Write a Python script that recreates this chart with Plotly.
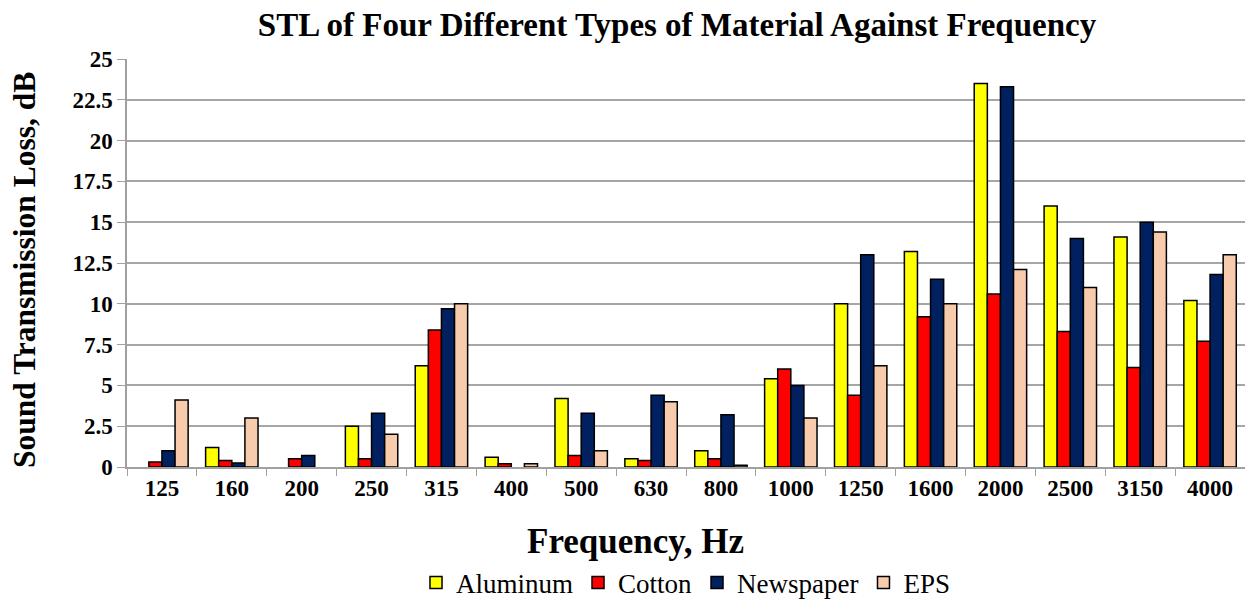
import plotly.graph_objects as go

freqs = ["125", "160", "200", "250", "315", "400", "500", "630", "800", "1000",
         "1250", "1600", "2000", "2500", "3150", "4000"]
aluminum = [0, 1.2, 0, 2.5, 6.2, 0.6, 4.2, 0.5, 1.0, 5.4, 10.0, 13.2, 23.5, 16.0, 14.1, 10.2]
cotton = [0.3, 0.4, 0.5, 0.5, 8.4, 0.2, 0.7, 0.4, 0.5, 6.0, 4.4, 9.2, 10.6, 8.3, 6.1, 7.7]
newspaper = [1.0, 0.25, 0.7, 3.3, 9.7, 0, 3.3, 4.4, 3.2, 5.0, 13.0, 11.5, 23.3, 14.0, 15.0, 11.8]
eps = [4.1, 3.0, 0, 2.0, 10.0, 0.2, 1.0, 4.0, 0.1, 3.0, 6.2, 10.0, 12.1, 11.0, 14.4, 13.0]
yticks = [0, 2.5, 5, 7.5, 10, 12.5, 15, 17.5, 20, 22.5, 25]

series = [("Aluminum", aluminum, "#FFFF00"), ("Cotton", cotton, "#FF0000"),
          ("Newspaper", newspaper, "#002060"), ("EPS", eps, "#F8CBAD")]

fig = go.Figure()
for name, vals, col in series:
    # zero values are drawn as no bar at all (as in the original chart)
    fig.add_trace(go.Bar(x=freqs, y=[v if v != 0 else None for v in vals], name=name,
                         marker=dict(color=col, line=dict(color="black", width=1.5))))

# page body has an 8px margin, so the figure is sized/offset to compensate
W, H = 1245, 592
font = "Liberation Serif"
fig.update_layout(
    width=W, height=H,
    paper_bgcolor="white", plot_bgcolor="white",
    margin=dict(l=119, r=8, t=51, b=133, autoexpand=False),
    barmode="group", bargap=0.25, bargroupgap=0,
    font=dict(family=font, color="black"),
    title=dict(text="<b>STL of Four Different Types of Material Against Frequency</b>",
               x=(677 - 8) / W, xanchor="center", y=1 - 16 / H, yanchor="middle",
               font=dict(size=33, family=font, color="black")),
    xaxis=dict(type="category", tickson="boundaries", ticks="outside", ticklen=7,
               tickcolor="#A0A0A0", showline=True, linecolor="#A0A0A0", linewidth=1.5,
               tickfont=dict(size=23, family=font, color="black"),
               tickprefix="<b>", ticksuffix="</b>", automargin=False),
    yaxis=dict(range=[0, 25], tickvals=yticks,
               ticktext=["<b>%g</b>" % v for v in yticks],
               ticks="outside", ticklen=8, tickcolor="#A0A0A0",
               showline=True, linecolor="#A0A0A0", linewidth=1.5,
               showgrid=True, gridcolor="#A6A6A6", gridwidth=1.5, zeroline=False,
               tickfont=dict(size=23, family=font, color="black"), automargin=False),
    legend=dict(orientation="h", x=0.5, xanchor="center", y=-116 / 408, yanchor="middle",
                font=dict(size=27, family=font, color="black"), itemwidth=30,
                traceorder="normal"),
    annotations=[
        dict(text="<b>Frequency, Hz</b>", xref="paper", yref="paper",
             x=(635 - 127) / 1118, y=-(541 - 467) / 408, xanchor="center", yanchor="middle",
             showarrow=False, font=dict(size=35, family=font, color="black")),
        dict(text="<b>Sound Transmission Loss, dB</b>", xref="paper", yref="paper",
             x=(24 - 127) / 1118, y=(467 - 270) / 408, xanchor="center", yanchor="middle",
             textangle=-90, showarrow=False, font=dict(size=31.5, family=font, color="black")),
    ],
)
fig.write_html("out.html")
